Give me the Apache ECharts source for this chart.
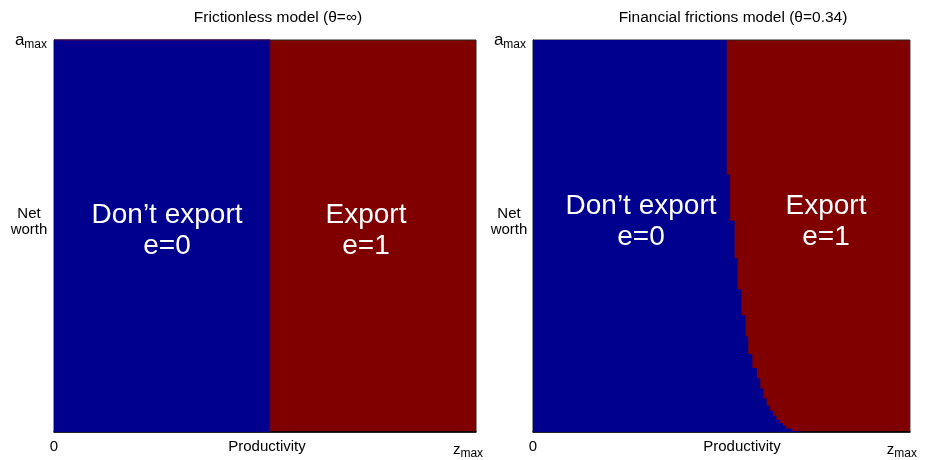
<!DOCTYPE html>
<html>
<head>
<meta charset="utf-8">
<script src="https://cdn.jsdelivr.net/npm/echarts@6/dist/echarts.min.js"></script>
<style>
html,body{margin:0;padding:0;background:#fff;}
#chart{width:928px;height:460px;}
</style>
</head>
<body>
<div id="chart"></div>
<script>
// ---- data (normalised: z = productivity / z_max, a = net worth / a_max) ----
const panelTitles = ['Frictionless model (\u03b8=\u221e)', 'Financial frictions model (\u03b8=0.34)'];
const regionLabels = ['Don\u2019t export\ne=0', 'Export\ne=1'];
const xTickLabels = ['0', 'z{s|max}{gap|}'];
const yTickLabels = ['a{s|max}'];
const xAxisName = 'Productivity';
const yAxisName = 'Net\nworth';

// Frictionless: a single productivity cut-off, independent of net worth
const frictionlessZ = [0.511];
const frictionlessA = [0.0];

// Financial frictions: step cut-off z*(a); each step holds z from a down to frictionA[i]
const frictionZ = [0.514, 0.523, 0.535, 0.543, 0.553, 0.564, 0.571, 0.582, 0.594, 0.603, 0.611,
                   0.620, 0.629, 0.637, 0.646, 0.655, 0.663, 0.672, 0.685, 0.698, 0.715];
const frictionA = [0.657, 0.539, 0.443, 0.364, 0.298, 0.244, 0.199, 0.163, 0.137, 0.111, 0.086,
                   0.067, 0.054, 0.042, 0.031, 0.023, 0.016, 0.009, 0.003, 0.001, 0.0];

const BLUE = '#00008f';
const RED = '#800000';
const FONT = 'Liberation Sans, Arial, sans-serif';

function stairs(zs, as) {
  const pts = [[0, 1]];
  let top = 1;
  for (let i = 0; i < zs.length; i++) {
    pts.push([zs[i], top]);
    pts.push([zs[i], as[i]]);
    top = as[i];
  }
  return pts;
}

const grids = [
  {left: 54, top: 40, width: 422, height: 393},
  {left: 533, top: 40, width: 385, height: 393}
];

const chart = echarts.init(document.getElementById('chart'), null, {renderer: 'canvas'});

const xAxes = grids.map((g, i) => ({
  type: 'value', gridIndex: i, min: 0, max: 1,
  splitLine: {show: false}, axisTick: {show: false},
  axisLine: {show: true, onZero: false, lineStyle: {color: '#000', width: 1.5}},
  axisLabel: {
    show: true, customValues: [0, 1], margin: 7,
    fontFamily: FONT, fontSize: 15, color: '#000',
    formatter: v => xTickLabels[v === 0 ? 0 : 1],
    rich: {
      s: {fontFamily: FONT, fontSize: 12, color: '#000', verticalAlign: 'bottom', padding: [9, 0, 0, 0]},
      gap: {width: 16}
    }
  }
}));
const yAxes = grids.map((g, i) => ({
  type: 'value', gridIndex: i, min: 0, max: 1,
  splitLine: {show: false}, axisTick: {show: false},
  axisLine: {show: true, onZero: false, lineStyle: {color: '#000', width: 1}},
  axisLabel: {
    show: true, customValues: [1], margin: 7,
    fontFamily: FONT, fontSize: 17, color: '#000',
    formatter: () => yTickLabels[0],
    rich: {s: {fontFamily: FONT, fontSize: 12, color: '#000', padding: [10, 0, 0, 0]}}
  }
}));

const series = [
  {
    type: 'line', xAxisIndex: 0, yAxisIndex: 0, data: stairs(frictionlessZ, frictionlessA),
    symbol: 'none', lineStyle: {width: 2, color: '#3a0050', opacity: 0.6}, areaStyle: {color: BLUE, opacity: 1}, silent: true, animation: false
  },
  {
    type: 'line', xAxisIndex: 1, yAxisIndex: 1, data: stairs(frictionZ, frictionA),
    symbol: 'none', lineStyle: {width: 0}, areaStyle: {color: BLUE, opacity: 1}, silent: true, animation: false
  }
];

const textBase = {fontFamily: FONT, fill: '#000'};
const graphic = [];
const titleX = [278, 733];
const prodX = [267, 742];
const netX = [29, 509];
const regionPos = [[[167, 231], [366, 231]], [[641, 222], [826, 222]]];
for (let i = 0; i < 2; i++) {
  graphic.push({type: 'text', x: titleX[i], y: 18, style: Object.assign({}, textBase, {text: panelTitles[i], fontSize: 15.5, textAlign: 'center', textVerticalAlign: 'middle'})});
  graphic.push({type: 'text', x: prodX[i], y: 447, style: Object.assign({}, textBase, {text: xAxisName, fontSize: 15, textAlign: 'center', textVerticalAlign: 'middle'})});
  graphic.push({type: 'text', x: netX[i], y: 222, style: Object.assign({}, textBase, {text: yAxisName, fontSize: 15, lineHeight: 16, textAlign: 'center', textVerticalAlign: 'middle'})});
  for (let j = 0; j < 2; j++) {
    graphic.push({type: 'text', x: regionPos[i][j][0], y: regionPos[i][j][1], z: 100,
      style: Object.assign({}, textBase, {text: regionLabels[j], fill: '#fff', fontSize: 28, lineHeight: 31, textAlign: 'center', textVerticalAlign: 'middle'})});
  }
}

chart.setOption({
  animation: false,
  backgroundColor: '#fff',
  grid: grids.map(g => Object.assign({show: true, backgroundColor: RED, borderColor: '#222', borderWidth: 1}, g)),
  xAxis: xAxes,
  yAxis: yAxes,
  series: series,
  graphic: graphic
});
</script>
</body>
</html>
